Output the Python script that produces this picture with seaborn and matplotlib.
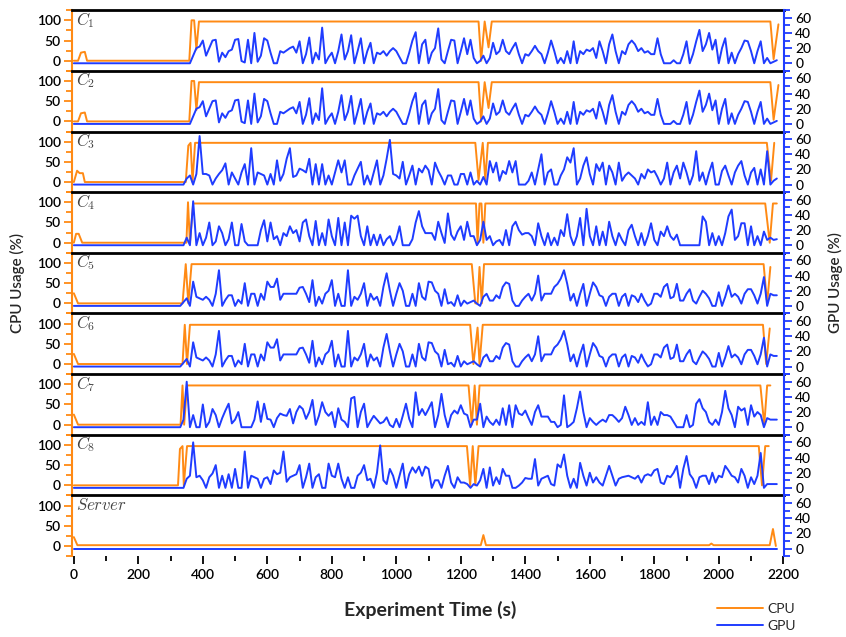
# %% Import packages

import pandas as pd
import seaborn as sns
import matplotlib.pyplot as plt
from matplotlib.lines import Line2D
from matplotlib.ticker import MultipleLocator

# %% Set constants

CPU_COLOR = '#ff8a14'
GPU_COLOR = '#1f3cff'

# GPU usage is sampled every 10 s from t = 340 s (flat at 0 before that)
GPU_T0 = 340
GPU_STEP = 10

gpu_c1 = [0, 0, 0, 10, 20, 22, 30, 10, 20, 30, 31, 2, 14, 8, 16, 18, 31, 32, 3, 1,
          31, 0, 40, 2, 10, 33, 30, 14, 0, 0, 16, 14, 17, 20, 22, 14, 29, 0, 12, 34,
          0, 14, 5, 47, 0, 8, 14, 0, 16, 38, 5, 16, 37, 0, 16, 33, 0, 16, 27, 0,
          14, 12, 16, 10, 16, 20, 16, 8, 0, 0, 14, 30, 41, 0, 25, 31, 0, 14, 20, 46,
          5, 0, 16, 31, 30, 0, 16, 33, 12, 31, 7, 0, 3, 10, 0, 7, 27, 12, 16, 31,
          16, 12, 20, 27, 12, 0, 12, 10, 16, 23, 16, 12, 0, 14, 30, 16, 0, 7, 0, 16,
          0, 29, 0, 16, 12, 18, 16, 20, 7, 29, 16, 0, 25, 38, 16, 0, 16, 12, 25, 30,
          25, 16, 20, 14, 16, 12, 12, 33, 12, 0, 0, 0, 4, 0, 0, 12, 29, 0, 12, 29,
          44, 16, 25, 40, 18, 31, 0, 20, 33, 0, 14, 0, 12, 20, 30, 29, 16, 0, 16, 29,
          0, 7, 0, 2, 4]

gpu_c3 = [0, 8, 12, 0, 14, 64, 14, 14, 12, 0, 8, 14, 19, 28, 0, 16, 8, 0, 16, 27,
          0, 48, 0, 16, 14, 12, 0, 14, 0, 32, 5, 14, 34, 48, 10, 12, 21, 19, 16, 34,
          0, 27, 0, 27, 0, 12, 0, 16, 32, 16, 32, 0, 0, 12, 21, 30, 0, 12, 0, 16,
          32, 0, 12, 34, 59, 14, 12, 8, 30, 0, 12, 25, 0, 21, 16, 25, 19, 0, 29, 18,
          10, 0, 12, 12, 0, 0, 14, 14, 0, 16, 0, 5, 0, 10, 0, 31, 16, 29, 5, 18,
          14, 31, 16, 31, 0, 0, 0, 5, 16, 0, 20, 40, 0, 16, 20, 0, 0, 12, 20, 36,
          29, 48, 0, 8, 25, 36, 14, 0, 27, 18, 29, 0, 25, 16, 0, 29, 5, 12, 16, 12,
          8, 0, 14, 8, 20, 16, 18, 10, 0, 8, 29, 0, 16, 25, 8, 29, 16, 0, 12, 44,
          5, 16, 0, 16, 29, 0, 0, 18, 25, 12, 0, 16, 25, 31, 12, 0, 16, 22, 0, 20,
          0, 44, 0, 5, 8]

gpu_c4 = [0, 10, 0, 58, 0, 16, 0, 10, 30, 0, 5, 25, 16, 0, 8, 30, 0, 0, 28, 5,
          0, 0, 0, 0, 20, 33, 5, 30, 8, 12, 0, 16, 12, 25, 16, 20, 5, 30, 34, 12,
          0, 32, 0, 16, 0, 34, 12, 0, 36, 0, 30, 0, 39, 35, 39, 12, 0, 25, 0, 14,
          0, 14, 0, 8, 12, 0, 8, 25, 0, 0, 0, 8, 30, 45, 25, 16, 16, 16, 7, 31,
          16, 3, 42, 14, 7, 18, 25, 7, 31, 12, 12, 0, 7, 31, 7, 12, 0, 5, 7, 0,
          20, 0, 25, 31, 20, 14, 16, 16, 12, 0, 29, 12, 0, 16, 0, 10, 0, 20, 12, 41,
          12, 0, 12, 36, 0, 48, 12, 0, 25, 0, 18, 0, 31, 12, 0, 16, 7, 0, 20, 27,
          12, 0, 16, 0, 12, 29, 7, 0, 18, 12, 25, 12, 7, 14, 0, 0, 0, 0, 0, 0,
          0, 38, 31, 0, 16, 0, 12, 0, 16, 38, 47, 7, 12, 29, 29, 0, 25, 0, 12, 0,
          18, 7, 10, 7, 8]

gpu_c5 = [5, 10, 0, 32, 12, 10, 8, 12, 8, 0, 16, 47, 0, 8, 14, 14, 0, 8, 3, 30,
          0, 16, 16, 0, 16, 8, 32, 25, 25, 36, 8, 16, 16, 16, 16, 16, 24, 25, 16, 5,
          34, 0, 12, 3, 16, 20, 34, 0, 16, 0, 0, 47, 0, 12, 8, 16, 30, 0, 16, 8,
          12, 0, 25, 43, 20, 0, 16, 30, 20, 0, 0, 16, 0, 30, 12, 8, 32, 31, 20, 16,
          0, 22, 3, 5, 0, 14, 0, 7, 3, 5, 7, 3, 0, 12, 16, 7, 7, 14, 10, 25,
          31, 29, 7, 0, 0, 7, 12, 16, 7, 16, 40, 7, 16, 16, 16, 25, 29, 36, 47, 29,
          7, 16, 0, 16, 29, 0, 16, 31, 25, 14, 12, 0, 12, 16, 16, 0, 12, 16, 0, 14,
          12, 5, 16, 7, 0, 3, 16, 16, 12, 25, 29, 10, 12, 29, 7, 7, 16, 22, 7, 3,
          12, 20, 16, 10, 0, 0, 18, 0, 12, 27, 12, 16, 12, 3, 16, 22, 22, 14, 3, 16,
          38, 0, 16, 14, 14]

gpu_c7 = [10, 60, 0, 16, 0, 0, 30, 0, 7, 24, 16, 0, 12, 22, 31, 5, 10, 20, 0, 0,
          0, 0, 10, 34, 7, 31, 11, 10, 0, 12, 18, 16, 15, 24, 5, 20, 28, 24, 11, 20,
          36, 3, 15, 33, 20, 15, 20, 0, 25, 10, 7, 0, 38, 40, 0, 20, 31, 0, 8, 15,
          10, 5, 7, 13, 3, 0, 11, 0, 15, 31, 11, 0, 46, 16, 24, 16, 24, 33, 0, 16,
          44, 16, 0, 16, 22, 18, 29, 18, 16, 0, 10, 10, 31, 0, 14, 7, 3, 10, 3, 25,
          3, 29, 0, 29, 18, 16, 22, 12, 3, 20, 29, 14, 14, 14, 7, 7, 0, 3, 42, 0,
          3, 7, 25, 47, 20, 0, 12, 7, 3, 7, 10, 7, 16, 16, 12, 7, 12, 27, 16, 3,
          12, 3, 7, 3, 33, 3, 14, 3, 20, 16, 16, 14, 7, 0, 0, 0, 16, 0, 3, 31,
          37, 25, 20, 7, 3, 10, 3, 20, 48, 25, 16, 0, 27, 22, 25, 3, 29, 14, 20, 16,
          0, 12, 10, 10, 10]

gpu_c8 = [0, 12, 16, 60, 14, 16, 10, 0, 14, 19, 30, 0, 16, 0, 18, 0, 25, 0, 0, 48,
          0, 16, 14, 12, 0, 12, 14, 5, 23, 18, 20, 48, 8, 14, 16, 18, 30, 0, 14, 32,
          0, 14, 18, 0, 0, 32, 16, 14, 32, 12, 0, 14, 0, 0, 16, 20, 30, 10, 12, 0,
          20, 56, 10, 5, 25, 16, 0, 16, 32, 0, 18, 27, 20, 28, 16, 28, 25, 0, 10, 10,
          0, 16, 29, 7, 0, 14, 7, 7, 5, 0, 5, 3, 10, 25, 0, 27, 3, 14, 5, 25,
          16, 16, 0, 0, 3, 7, 13, 12, 12, 38, 3, 12, 14, 16, 5, 3, 31, 27, 44, 16,
          0, 12, 0, 33, 16, 3, 20, 7, 14, 7, 3, 16, 29, 16, 3, 12, 14, 15, 16, 14,
          12, 16, 7, 16, 18, 16, 23, 25, 7, 5, 16, 14, 20, 29, 0, 25, 42, 18, 12, 0,
          14, 16, 16, 5, 20, 7, 16, 14, 29, 23, 16, 14, 7, 25, 16, 0, 14, 5, 16, 46,
          0, 5, 5, 5, 5]

gpu_server_t = [0, 2180]
gpu_server = [0, 0]

# CPU usage breakpoints (time in s, usage in %)
cpu_c1_t = [0, 13, 22, 34, 41, 358, 365, 373, 380, 388, 1255, 1263, 1274, 1286, 1296, 2160, 2170, 2185]
cpu_c1 = [0, 0, 20, 22, 0, 0, 100, 100, 28, 97, 97, 0, 97, 33, 97, 97, 4, 90]

cpu_c3_t = [0, 10, 18, 28, 34, 347, 355, 362, 368, 376, 1245, 1255, 1268, 1276, 1284, 2149, 2162, 2172]
cpu_c3 = [0, 28, 22, 22, 0, 0, 90, 97, 0, 97, 97, 5, 97, 5, 97, 97, 3, 97]

cpu_c4_t = [0, 7, 15, 26, 349, 354, 360, 370, 1247, 1252, 1258, 1264, 1270, 1276, 2144, 2158, 2168, 2180]
cpu_c4 = [0, 22, 22, 0, 0, 100, 0, 97, 97, 0, 97, 97, 0, 97, 97, 0, 97, 97]

cpu_c5_t = [0, 13, 337, 347, 355, 365, 1234, 1245, 1252, 1258, 1265, 1272, 2139, 2150, 2160]
cpu_c5 = [25, 0, 0, 97, 0, 97, 97, 0, 0, 90, 0, 97, 97, 0, 90]

cpu_c6_t = [0, 13, 337, 344, 351, 360, 1229, 1239, 1252, 1258, 1268, 2137, 2147, 2158]
cpu_c6 = [25, 0, 0, 97, 0, 97, 97, 0, 90, 0, 97, 97, 0, 88]

cpu_c7_t = [0, 13, 331, 337, 342, 351, 1224, 1234, 1243, 1250, 1258, 2129, 2141, 2150, 2160]
cpu_c7 = [25, 0, 0, 97, 0, 97, 97, 0, 97, 0, 97, 97, 0, 97, 97]

cpu_c8_t = [0, 323, 329, 337, 341, 351, 1219, 1229, 1237, 1245, 1255, 2124, 2134, 2144, 2155]
cpu_c8 = [0, 0, 90, 97, 0, 97, 97, 0, 97, 0, 97, 97, 0, 97, 97]

cpu_server_t = [0, 11, 1262, 1270, 1278, 1970, 1977, 1984, 2158, 2168, 2177]
cpu_server = [22, 2, 2, 27, 2, 2, 6, 2, 2, 42, 0]

panel_labels = ['$C_1$', '$C_2$', '$C_3$', '$C_4$', '$C_5$', '$C_6$', '$C_7$', '$C_8$', '$Server$']
x_ticks = [0, 200, 400, 600, 800, 1000, 1200, 1400, 1600, 1800, 2000, 2200]

# %% Define functions


def gpu_series(values):
    # idle (0 %) from the start of the run until the first sample
    times = [0, GPU_T0 - GPU_STEP] + [GPU_T0 + GPU_STEP * k for k in range(len(values))]
    return times, [0, 0] + values


# %% Set figure aesthetics

sns.set_theme(style='ticks')
plt.rcParams['font.family'] = ['Lato', 'DejaVu Sans']
plt.rcParams['mathtext.fontset'] = 'cm'

panels = [
    (cpu_c1_t, cpu_c1) + gpu_series(gpu_c1),
    (cpu_c1_t, cpu_c1) + gpu_series(gpu_c1),
    (cpu_c3_t, cpu_c3) + gpu_series(gpu_c3),
    (cpu_c4_t, cpu_c4) + gpu_series(gpu_c4),
    (cpu_c5_t, cpu_c5) + gpu_series(gpu_c5),
    (cpu_c6_t, cpu_c6) + gpu_series(gpu_c5),
    (cpu_c7_t, cpu_c7) + gpu_series(gpu_c7),
    (cpu_c8_t, cpu_c8) + gpu_series(gpu_c8),
    (cpu_server_t, cpu_server, gpu_server_t, gpu_server),
]

# %% Generate stacked CPU / GPU panels

fig, axes = plt.subplots(9, 1, figsize=(8.46, 6.37), dpi=100, sharex=True)
fig.subplots_adjust(left=0.085, right=0.927, top=0.984, bottom=0.127, hspace=0)

for i, (ax, label, (cpu_t, cpu_v, gpu_t, gpu_v)) in enumerate(zip(axes, panel_labels, panels)):
    cpu_df = pd.DataFrame({'time': cpu_t, 'usage': cpu_v})
    gpu_df = pd.DataFrame({'time': gpu_t, 'usage': gpu_v})

    sns.lineplot(data=cpu_df, x='time', y='usage', ax=ax, color=CPU_COLOR, lw=1.4)
    ax2 = ax.twinx()
    sns.lineplot(data=gpu_df, x='time', y='usage', ax=ax2, color=GPU_COLOR, lw=1.4)

    ax.set(xlabel='', ylabel='')
    ax2.set_ylabel('')
    ax.set_xlim(-6, 2203)
    ax.set_ylim(-25, 125)
    ax2.set_ylim(-10, 70)

    ax.yaxis.set_major_locator(MultipleLocator(50))
    ax.yaxis.set_minor_locator(MultipleLocator(25))
    ax2.yaxis.set_major_locator(MultipleLocator(20))
    ax2.yaxis.set_minor_locator(MultipleLocator(10))

    ax.tick_params(axis='y', which='both', colors=CPU_COLOR, labelcolor='black',
                   labelsize=10, width=1.3, pad=2)
    ax.tick_params(axis='y', which='major', length=6)
    ax.tick_params(axis='y', which='minor', length=4)
    ax2.tick_params(axis='y', which='both', colors=GPU_COLOR, labelcolor='black',
                    labelsize=10, width=1.3, pad=2)
    ax2.tick_params(axis='y', which='major', length=6)
    ax2.tick_params(axis='y', which='minor', length=4)
    plt.setp(ax.get_yticklabels(), fontweight='semibold')
    plt.setp(ax2.get_yticklabels(), fontweight='medium')

    ax.spines['top'].set_color('black')
    ax.spines['top'].set_linewidth(2)
    ax.spines['left'].set_color(CPU_COLOR)
    ax.spines['left'].set_linewidth(1.5)
    ax.spines['right'].set_visible(False)
    ax.spines['bottom'].set_visible(False)
    ax2.spines['right'].set_color(GPU_COLOR)
    ax2.spines['right'].set_linewidth(1.5)
    for side in ['top', 'left', 'bottom']:
        ax2.spines[side].set_visible(False)

    ax.text(0.006, 0.84, label, transform=ax.transAxes, ha='left', va='center',
            fontsize=12, color='#444444')

    if i < len(axes) - 1:
        ax.tick_params(axis='x', which='both', bottom=False, labelbottom=False)

bottom_ax = axes[-1]
bottom_ax.set_xticks(x_ticks)
bottom_ax.xaxis.set_minor_locator(MultipleLocator(100))
bottom_ax.tick_params(axis='x', which='both', colors='black', labelsize=10, width=1.3)
bottom_ax.tick_params(axis='x', which='major', length=6)
bottom_ax.tick_params(axis='x', which='minor', length=3.5)
plt.setp(bottom_ax.get_xticklabels(), fontweight='semibold')

fig.text(0.508, 0.042, 'Experiment Time (s)', ha='center', va='center', fontsize=14,
         fontweight='bold')
fig.text(0.021, 0.556, 'CPU Usage (%)', rotation=90, ha='center', va='center', fontsize=11,
         fontweight='semibold')
fig.text(0.988, 0.556, 'GPU Usage (%)', rotation=90, ha='center', va='center', fontsize=11,
         fontweight='semibold')

handles = [Line2D([0], [0], color=CPU_COLOR, lw=1.4), Line2D([0], [0], color=GPU_COLOR, lw=1.4)]
fig.legend(handles, ['CPU', 'GPU'], loc='lower right', bbox_to_anchor=(0.955, -0.012),
           frameon=False, fontsize=10, handlelength=3.3, labelspacing=0.35, handletextpad=0.3)

plt.savefig('out.png', dpi=100)
